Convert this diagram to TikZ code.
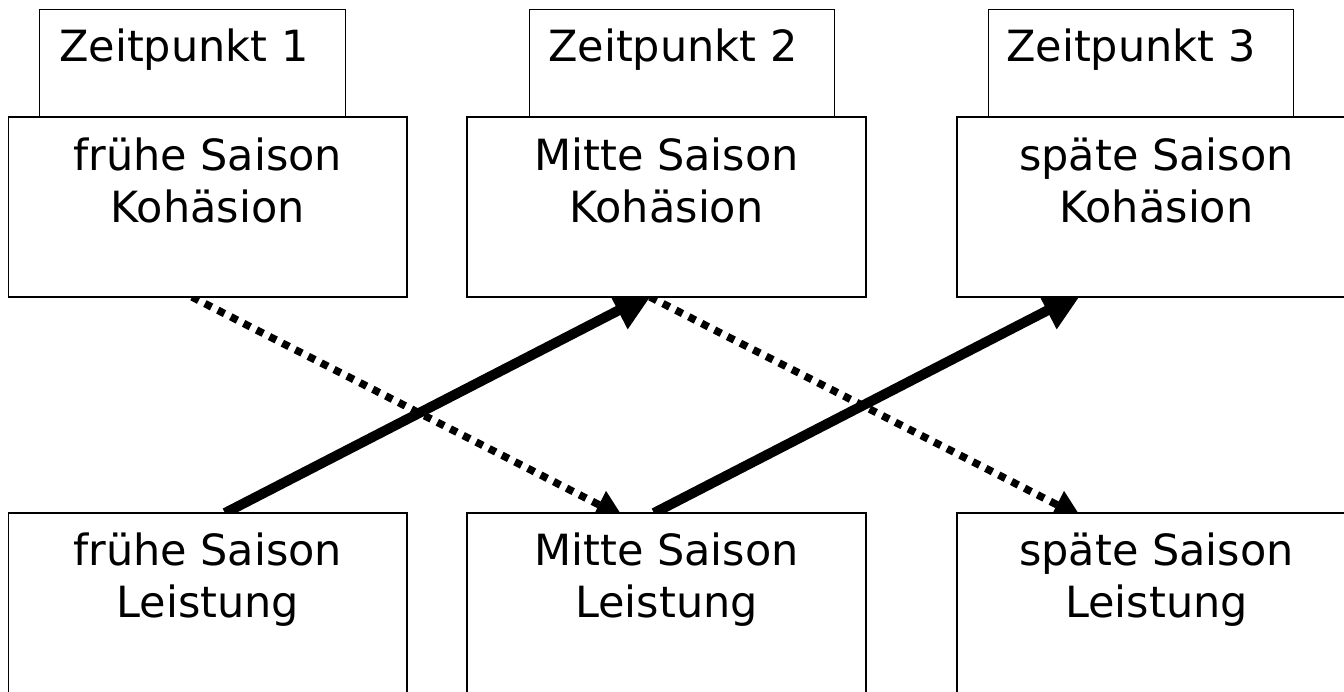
\documentclass[tikz,border=0pt]{standalone}
\usepackage{fontspec}
\setmainfont{DejaVu Sans}
\usetikzlibrary{arrows.meta,calc}
\pgfdeclarelayer{bg}
\pgfsetlayers{bg,main}
\begin{document}
\begin{tikzpicture}[x=1pt,y=-1pt,
  box/.style={draw=black,line width=1.3pt,fill=white,rectangle,inner sep=0pt,outer sep=0pt,anchor=north west},
  tab/.style={draw=black,line width=0.9pt,fill=white,rectangle,inner sep=0pt,outer sep=0pt,anchor=north west},
  lbl/.style={font=\fontsize{43}{52}\selectfont,align=center,inner sep=0pt,anchor=base},
  tlbl/.style={font=\fontsize{43}{52}\selectfont,inner sep=0pt,anchor=base west},
  strong/.style={line width=10pt,-{Triangle[length=40pt,width=39pt]}},
  weak/.style={line width=7.5pt,dash pattern=on 7.5pt off 7pt,-{Triangle[length=27pt,width=29pt]}}]
\useasboundingbox (0,0) rectangle (1344,691);
\clip (0,0) rectangle (1344,691);
% tabs
\node[tab,minimum width=305.5pt,minimum height=107.5pt] (t1) at (39.5,9.5) {};
\node[tab,minimum width=305pt,minimum height=107.5pt] (t2) at (529,9.5) {};
\node[tab,minimum width=305pt,minimum height=107.5pt] (t3) at (988,9.5) {};
% upper boxes
\node[box,minimum width=398.5pt,minimum height=180pt] (k1) at (8.5,117) {};
\node[box,minimum width=399pt,minimum height=180pt] (k2) at (467,117) {};
\node[box,minimum width=420pt,minimum height=180pt] (k3) at (957,117) {};
% lower boxes
\node[box,minimum width=398.5pt,minimum height=220pt] (l1) at (8.5,513) {};
\node[box,minimum width=399pt,minimum height=220pt] (l2) at (467,513) {};
\node[box,minimum width=420pt,minimum height=220pt] (l3) at (957,513) {};
% tab labels
\node[tlbl] (z1) at (59,61) {Zeitpunkt 1};
\node[tlbl] (z2) at (548,61) {Zeitpunkt 2};
\node[tlbl] (z3) at (1006,61) {Zeitpunkt 3};
% box labels (anchor base = baseline of the last line)
\node[lbl] (kt1) at ($(k1.north west)+(199.25,105)$) {frühe Saison\\Kohäsion};
\node[lbl] (kt2) at ($(k2.north west)+(199.5,105)$) {Mitte Saison\\Kohäsion};
\node[lbl] (kt3) at ($(k3.north west)+(199.5,105)$) {späte Saison\\Kohäsion};
\node[lbl] (lt1) at ($(l1.north west)+(199.25,104)$) {frühe Saison\\Leistung};
\node[lbl] (lt2) at ($(l2.north west)+(199.5,104)$) {Mitte Saison\\Leistung};
\node[lbl] (lt3) at ($(l3.north west)+(199.5,104)$) {späte Saison\\Leistung};
% connectors
\begin{pgfonlayer}{bg}
\draw[strong] ($(l1.north west)+(216.5,0)$) -- ($(k2.south west)+(186.6,-4.7)$);
\draw[strong] ($(l2.north west)+(187,0)$) -- ($(k3.south west)+(125.6,-4.7)$);
\draw[weak] ($(k1.south west)+(183.5,0)$) -- ($(l2.north west)+(156,4)$);
\draw[weak] ($(k2.south west)+(183,0)$) -- ($(l3.north west)+(124,4)$);
\end{pgfonlayer}
\end{tikzpicture}
\end{document}
